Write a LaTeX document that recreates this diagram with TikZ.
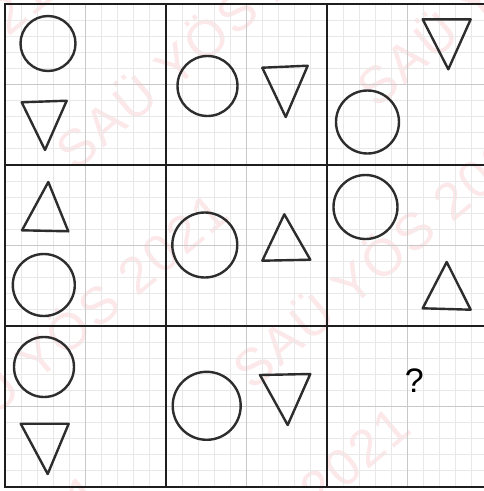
\documentclass[tikz,border=0pt]{standalone}
\usepackage{fontspec}
\setmainfont{Liberation Sans}
\newfontfamily\wmfont[LetterSpace=5]{Liberation Sans}
\definecolor{wm}{RGB}{252,231,233}
\definecolor{minorc}{RGB}{232,232,232}
\definecolor{midc}{RGB}{200,200,200}
\definecolor{ink}{RGB}{45,45,45}
\definecolor{gridk}{RGB}{30,30,30}
\begin{document}
\begin{tikzpicture}[x=1pt,y=-1pt,
  wmark/.style={text=wm,font=\wmfont\fontsize{52}{52}\selectfont,rotate=40,inner sep=0pt,anchor=center},
  minorline/.style={draw=minorc,line width=0.9pt},
  midline/.style={draw=midc,line width=1.1pt},
  thickline/.style={draw=gridk,line width=2.4pt,line cap=rect},
  figline/.style={draw=ink,line width=2.4pt,line join=round},
  qmark/.style={font=\fontsize{34}{34}\selectfont,inner sep=0pt,anchor=center}]
\useasboundingbox (0,0) rectangle (484,491);
\clip (0,0) rectangle (484,491);
\fill[white] (0,0) rectangle (484,491);
% watermark
\node[wmark] (wmA) at (209,32) {SAÜ YÖS 2021};
\node[wmark] (wmB) at (510,-31) {SAÜ YÖS 2021};
\node[wmark] (wmC) at (71,325) {SAÜ YÖS 2021};
\node[wmark] (wmD) at (386,251) {SAÜ YÖS 2021};
\node[wmark] (wmE) at (253,539) {SAÜ YÖS 2021};
\node[wmark] (wmF) at (-53,606) {SAÜ YÖS 2021};
\node[wmark] (wmG) at (-106,106) {SAÜ YÖS 2021};
% minor grid
\foreach \i in {1,...,29} {
  \draw[minorline] ({5+16.1*\i},4) -- ({5+16.1*\i},487);
  \draw[minorline] (5,{4+16.1*\i}) -- (484,{4+16.1*\i});
}
% mid lines
\foreach \m in {85.5,246.5,407.5} {
  \draw[midline] (\m,4) -- (\m,487);
}
\foreach \m in {84.5,245.5,406.5} {
  \draw[midline] (5,\m) -- (484,\m);
}
% thick grid
\draw[thickline] (490,4) -- (5,4) -- (5,487) -- (490,487);
\draw[thickline] (166,4) -- (166,487);
\draw[thickline] (327,4) -- (327,487);
\draw[thickline] (5,165) -- (490,165);
\draw[thickline] (5,326) -- (490,326);
% circles
\draw[figline] (48,43.5) circle[radius=27.5pt];
\draw[figline] (207.5,86) circle[radius=30pt];
\draw[figline] (367.5,122) circle[radius=31.5pt];
\draw[figline] (43.8,285) circle[radius=31pt];
\draw[figline] (204.8,245) circle[radius=32.5pt];
\draw[figline] (365.5,207) circle[radius=32pt];
\draw[figline] (44,367) circle[radius=30pt];
\draw[figline] (206.7,405.8) circle[radius=34pt];
% triangles
\draw[figline] (21.7,102.3) -- (66.7,100.7) -- (45,150) -- cycle;
\draw[figline] (262.3,67.7) -- (307.7,65.7) -- (285.7,117) -- cycle;
\draw[figline] (422.7,19.3) -- (470.7,19.3) -- (448.3,69.3) -- cycle;
\draw[figline] (48.3,182) -- (22,230.3) -- (68.3,231.3) -- cycle;
\draw[figline] (284.3,214.3) -- (262.3,260.7) -- (310.3,259.7) -- cycle;
\draw[figline] (446.7,262) -- (422.7,308.3) -- (470.7,309.7) -- cycle;
\draw[figline] (20.7,423.7) -- (68.7,423.7) -- (47.7,474) -- cycle;
\draw[figline] (260,375) -- (310.3,374) -- (287.7,425) -- cycle;
% question mark
\node[qmark] (q) at (414.3,380.5) {?};
\end{tikzpicture}
\end{document}
